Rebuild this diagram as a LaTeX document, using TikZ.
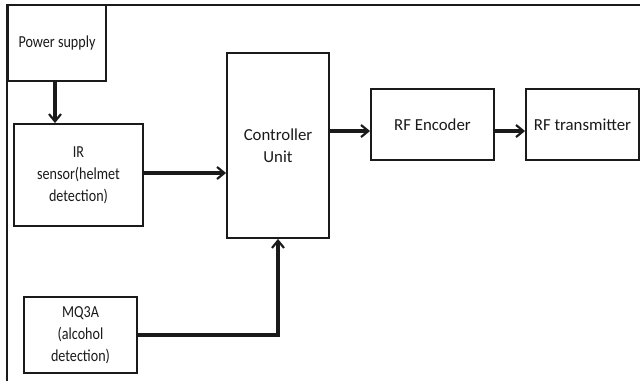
\documentclass[tikz,border=0pt]{standalone}
\usepackage{fontspec}
\setmainfont{Carlito}
\newfontfamily\narrowfont[FakeStretch=0.84]{Carlito}
\usepackage{tikz}
\usetikzlibrary{arrows.meta,positioning,calc}
\definecolor{ink}{HTML}{1A1A1A}

\begin{document}
\begin{tikzpicture}[
      x=0.75pt, y=-0.75pt,
      block/.style={rectangle, draw=ink, line width=1.4pt, fill=white,
                    text=ink, inner sep=0pt, align=center,
                    font=\fontsize{12.6}{16.5}\selectfont},
      small/.style={font=\narrowfont\fontsize{12.6}{16.5}\selectfont},
      arr/.style={-{Straight Barb[length=5.5pt,width=9pt,line width=1.6pt]}, line width=2.4pt, color=ink},
      frame/.style={line width=2pt, color=ink}
    ]
      \useasboundingbox (0,0) rectangle (640,381);
      % outer frame
      \draw[frame] (640,5) -- (7,5) -- (7,381);
      \node[block, small, minimum width=98pt*0.75, minimum height=76pt*0.75] (power) at (57,43) {Power supply};
      \node[block, small, minimum width=129pt*0.75, minimum height=102pt*0.75] (ir) at (78.5,175) {IR\\sensor(helmet\\detection)};
      \node[block, minimum width=102pt*0.75, minimum height=185pt*0.75] (ctrl) at (278,145.5) {Controller\\Unit};
      \node[block, small, minimum width=113pt*0.75, minimum height=76pt*0.75] (mq) at (80.5,335) {MQ3A\\(alcohol\\detection)};
      \node[block, minimum width=123pt*0.75, minimum height=71pt*0.75] (enc) at (432.5,124.5) {RF Encoder};
      \node[block, minimum width=113pt*0.75, minimum height=71pt*0.75] (tx) at (582.5,124.5) {RF transmitter};
      \draw[arr] ([xshift=-1.5pt]power.south) -- ([xshift=-1.5pt]power.south |- ir.north);
      \draw[arr] ([yshift=1.5pt]ir.east) -- ([yshift=1.5pt]ir.east -| ctrl.west);
      \draw[arr] (mq.east) -- (mq.east -| ctrl.south) -- (ctrl.south);
      \draw[arr] ([yshift=-4.9pt]enc.west -| ctrl.east) -- ([yshift=-4.9pt]enc.west);
      \draw[arr] ([yshift=-4.9pt]enc.east) -- ([yshift=-4.9pt]tx.west);
    \end{tikzpicture}
\end{document}
